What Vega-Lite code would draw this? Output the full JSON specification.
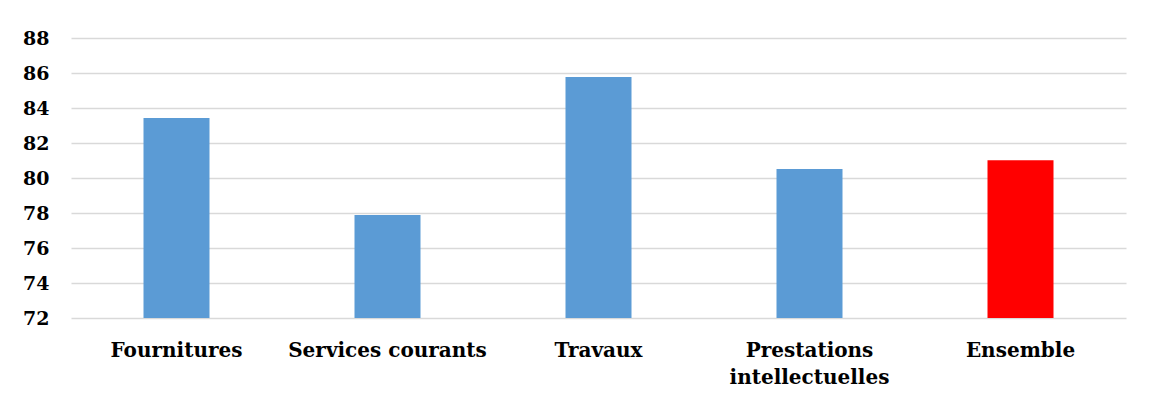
{
  "$schema": "https://vega.github.io/schema/vega-lite/v6.json",
  "autosize": {"type": "none"},
  "padding": {"left": 71, "top": 38, "right": 23, "bottom": 85},
  "width": 1055,
  "height": 280,
  "background": "white",
  "config": {"view": {"stroke": null}},
  "data": {"values": [
    {"cat": "Fournitures", "val": 83.43, "grp": "a"},
    {"cat": "Services courants", "val": 77.88, "grp": "a"},
    {"cat": "Travaux", "val": 85.77, "grp": "a"},
    {"cat": "Prestations intellectuelles", "val": 80.52, "grp": "a"},
    {"cat": "Ensemble", "val": 81.02, "grp": "b"}
  ]},
  "mark": {"type": "bar", "size": 66, "clip": true},
  "encoding": {
    "x": {"field": "cat", "type": "nominal", "sort": null, "title": null,
      "scale": {"paddingInner": 0, "paddingOuter": 0},
      "axis": {"domain": false, "ticks": false, "labelAngle": 0, "labelPadding": 22,
        "labelFont": "DejaVu Serif", "labelFontWeight": "bold", "labelFontSize": 20, "labelColor": "#000000",
        "labelLimit": 300, "labelLineHeight": 27,
        "labelExpr": "datum.value == 'Prestations intellectuelles' ? ['Prestations', 'intellectuelles'] : datum.value"}},
    "y": {"field": "val", "type": "quantitative", "title": null,
      "scale": {"domain": [72, 88], "zero": false, "nice": false},
      "axis": {"values": [72, 74, 76, 78, 80, 82, 84, 86, 88], "domain": false, "ticks": false,
        "grid": true, "gridColor": "#d9d9d9", "gridWidth": 1.5, "labelPadding": 22,
        "labelFont": "DejaVu Serif", "labelFontWeight": "bold", "labelFontSize": 19, "labelColor": "#000000"}},
    "y2": {"datum": 72},
    "color": {"field": "grp", "type": "nominal", "legend": null,
      "scale": {"domain": ["a", "b"], "range": ["#5B9BD5", "#FF0000"]}}
  }
}
